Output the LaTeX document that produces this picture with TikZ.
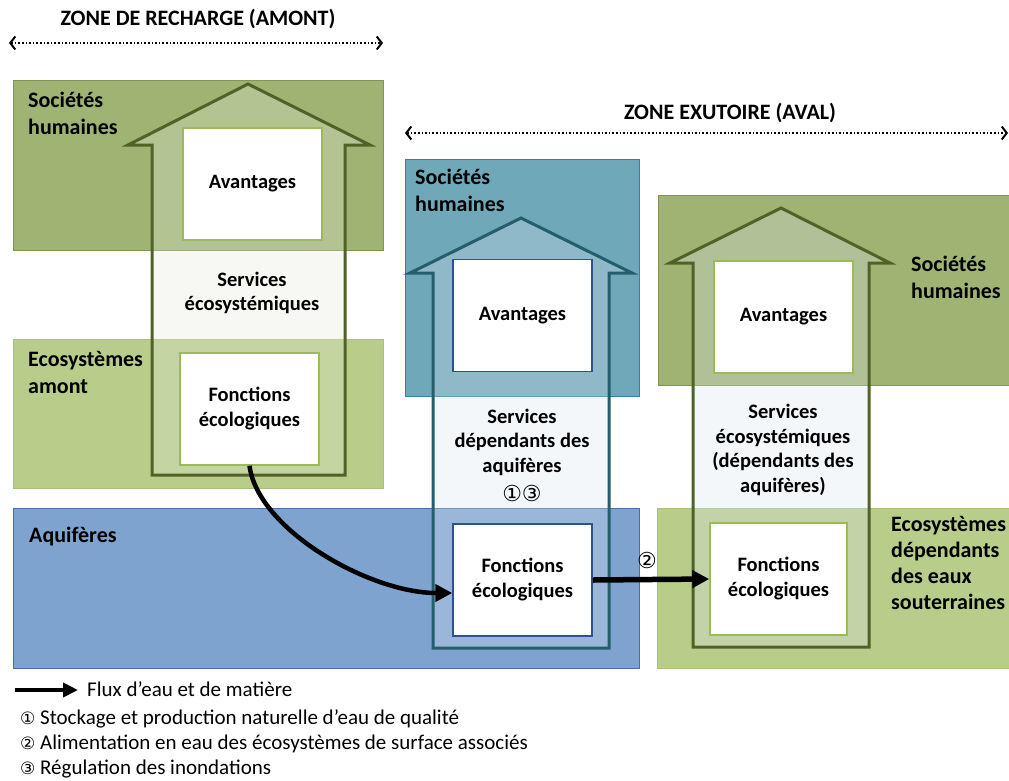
\documentclass[tikz,border=0pt]{standalone}
\usepackage{fontspec}
\setmainfont{Carlito}
\newfontfamily\circfont{DejaVu Sans}
\usepackage{tikz}
\usetikzlibrary{arrows.meta}

\definecolor{olivebox}{HTML}{9FB372}
\definecolor{olivedraw}{HTML}{7E9650}
\definecolor{ecobox}{HTML}{B9CD8A}
\definecolor{ecodraw}{HTML}{A7C27A}
\definecolor{tealbox}{HTML}{6FA8B8}
\definecolor{tealdraw}{HTML}{31849B}
\definecolor{aquibox}{HTML}{7FA3CF}
\definecolor{aquidraw}{HTML}{4A70A0}
\definecolor{greenarrow}{HTML}{4F6228}
\definecolor{tealarrow}{HTML}{245D6C}
\definecolor{greenframe}{HTML}{9BBB59}
\definecolor{blueframe}{HTML}{2F528F}
\definecolor{greyfill}{HTML}{E3E8DA}
\definecolor{bluefill}{HTML}{D9E3EE}

\begin{document}
\begin{tikzpicture}[x=1pt, y=-1pt, font=\fontsize{21}{25}\selectfont,
	zone/.style={draw, line width=1.2pt, anchor=north west, inner sep=0pt},
	house/.style={line width=3pt, line join=miter, fill opacity=0.3, draw opacity=1},
	inbox/.style={draw, line width=1.5pt, fill=white, minimum width=139pt, minimum height=112pt, align=center, font=\fontsize{20.5}{25}\selectfont\bfseries},
	boxlabel/.style={anchor=north west, align=left, inner sep=0pt, font=\fontsize{22}{27}\selectfont\bfseries},
	svtext/.style={align=center, inner sep=0pt, font=\fontsize{20.5}{24.5}\selectfont\bfseries},
	zonetitle/.style={anchor=base, font=\fontsize{22}{25}\selectfont\bfseries},
	zonearrow/.style={line width=1.6pt, dash pattern=on 1.6pt off 2pt, {Straight Barb[length=5pt,width=13pt,line width=2pt]}-{Straight Barb[length=5pt,width=13pt,line width=2pt]}},
	flux/.style={line width=4.5pt, -{Triangle[length=17pt,width=17pt]}}]
	\useasboundingbox (0,0) rectangle (1009,780);

	% zones
	\node[zonetitle] (titleL) at (198,25) {ZONE DE RECHARGE (AMONT)};
	\coordinate (zl1) at (9,43);
	\coordinate (zl2) at (383,43);
	\draw[zonearrow] (zl1) -- (zl2);
	\node[zonetitle] (titleR) at (730,119) {ZONE EXUTOIRE (AVAL)};
	\coordinate (zr1) at (405,133);
	\coordinate (zr2) at (1008,133);
	\draw[zonearrow] (zr1) -- (zr2);

	% grandes boites
	\node[zone, fill=olivebox, draw=olivedraw, minimum width=370pt, minimum height=170pt] (socL) at (13,80) {};
	\node[zone, fill=ecobox, draw=ecodraw, minimum width=370pt, minimum height=149pt] (ecoL) at (13,339) {};
	\node[zone, fill=aquibox, draw=aquidraw, minimum width=626pt, minimum height=160pt] (aquiM) at (13,508) {};
	\node[zone, fill=tealbox, draw=tealdraw, minimum width=234pt, minimum height=237pt] (socM) at (405,159) {};
	\node[zone, fill=olivebox, draw=olivedraw, minimum width=360pt, minimum height=190pt] (socR) at (658,195) {};
	\node[zone, fill=ecobox, draw=ecodraw, minimum width=360pt, minimum height=160pt] (ecoR) at (657,508) {};

	\node[boxlabel] (socLlab) at (28,92) {Sociétés\\humaines};
	\node[boxlabel] (ecoLlab) at (28,351) {Ecosystèmes\\amont};
	\node[boxlabel] (aquiMlab) at (29,527) {Aquifères};
	\node[boxlabel] (socMlab) at (415,169) {Sociétés\\humaines};
	\node[boxlabel] (socRlab) at (911,256) {Sociétés\\humaines};
	\node[boxlabel, font=\fontsize{22}{26}\selectfont\bfseries] (ecoRlab) at (891,516) {Ecosystèmes\\dépendants\\des eaux\\souterraines};

	% fleches maisons
	\draw[house, draw=greenarrow, fill=greyfill] (152,475) -- (152,145) -- (128,145) -- (248,84) -- (370,145) -- (345,145) -- (345,475) -- cycle;
	\draw[house, draw=tealarrow, fill=bluefill] (433,648) -- (433,273) -- (410,273) -- (521,218) -- (632,273) -- (609,273) -- (609,648) -- cycle;
	\draw[house, draw=greenarrow, fill=bluefill] (693,647) -- (693,263) -- (670,263) -- (781,208) -- (890,263) -- (869,263) -- (869,647) -- cycle;

	% boites internes
	\node[inbox, draw=greenframe] (avL) at (252.5,184) {Avantages};
	\node[inbox, draw=greenframe] (fnL) at (249.5,409) {Fonctions\\écologiques};
	\node[inbox, draw=blueframe] (avM) at (522.5,315.5) {Avantages};
	\node[inbox, draw=blueframe] (fnM) at (522.5,580) {Fonctions\\écologiques};
	\node[inbox, draw=greenframe] (avR) at (783.5,317) {Avantages};
	\node[inbox, draw=greenframe, minimum width=137pt] (fnR) at (778.5,579) {Fonctions\\écologiques};

	\node[svtext] (svL) at (252,293) {Services\\écosystémiques};
	\node[svtext] (svM) at (522,442) {Services\\dépendants des\\aquifères};
	\node[inner sep=0pt, font=\fontsize{22}{24}\selectfont\circfont] (numM) at (522,493) {①③};
	\node[svtext] (svR) at (783,450) {Services\\écosystémiques\\(dépendants des\\aquifères)};

	% flux
	\draw[flux] (fnL.south) .. controls (258,530) and (370,593) .. ([yshift=-13pt]fnM.west);
	\draw[flux, line width=5.5pt] (fnM.east) -- (fnR.west);
	\node[inner sep=0pt, font=\fontsize{22}{24}\selectfont\circfont] (num2) at (647,560) {②};

	% legende
	\coordinate (lg1) at (15,690);
	\coordinate (lg2) at (78,690);
	\draw[line width=4pt, -{Triangle[length=15pt,width=14pt]}] (lg1) -- (lg2);
	\node[anchor=base west, inner sep=0pt] (lgflux) at (87,696) {Flux d’eau et de matière};
	\node[anchor=base west, inner sep=0pt] (lg1txt) at (20,724) {{\circfont\fontsize{17}{20}\selectfont ①} Stockage et production naturelle d’eau de qualité};
	\node[anchor=base west, inner sep=0pt] (lg2txt) at (20,749) {{\circfont\fontsize{17}{20}\selectfont ②} Alimentation en eau des écosystèmes de surface associés};
	\node[anchor=base west, inner sep=0pt] (lg3txt) at (20,774) {{\circfont\fontsize{17}{20}\selectfont ③} Régulation des inondations};
\end{tikzpicture}
\end{document}
